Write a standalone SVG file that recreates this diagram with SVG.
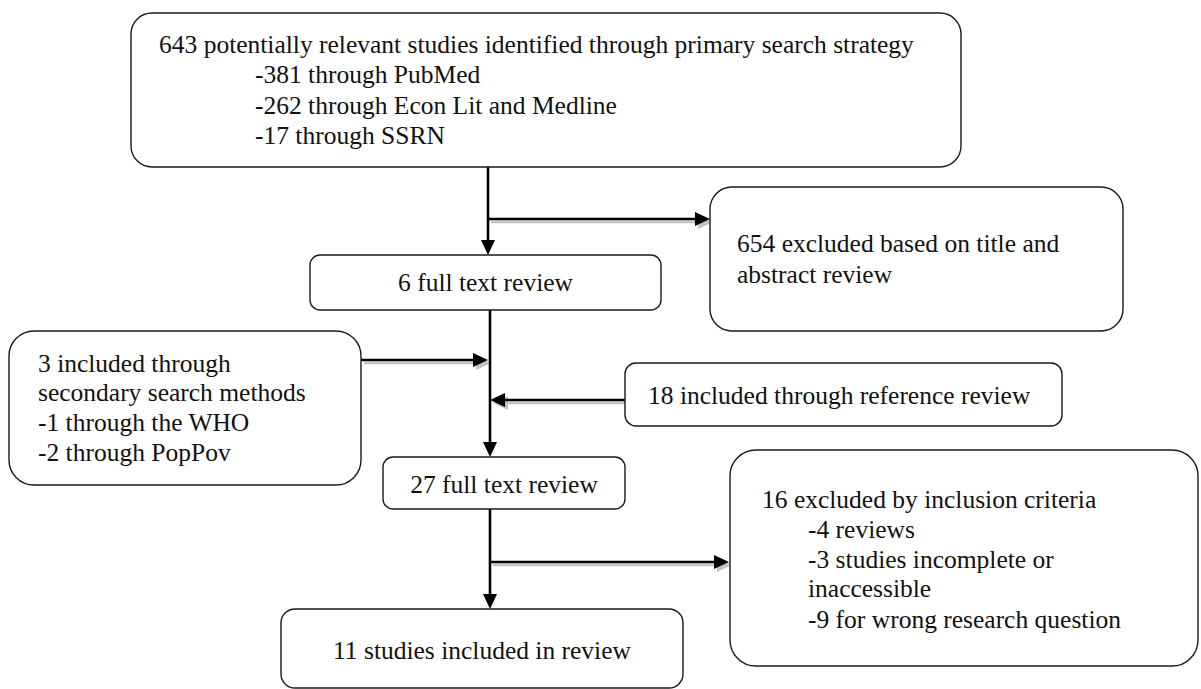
<svg xmlns="http://www.w3.org/2000/svg" width="1201" height="689" viewBox="0 0 1201 689">
  <defs>
    <style>
      .box { fill: #ffffff; stroke: #1a1a1a; stroke-width: 1.4; }
      .lbl { font-family: "Liberation Serif", "Times New Roman", serif; font-size: 25.5px; fill: #111111; }
      .mid { text-anchor: middle; }
      .wire { fill: none; stroke: #000000; stroke-width: 2.6; }
      .shade { fill: none; stroke: #c4c4c4; stroke-width: 2.6; }
    </style>
    <marker id="head" viewBox="0 0 15 14" refX="7" refY="7" markerWidth="15" markerHeight="14" markerUnits="userSpaceOnUse" orient="auto">
      <path d="M0,0 L15,7 L0,14 z" fill="#000000"/>
    </marker>
    <marker id="headShade" viewBox="0 0 15 14" refX="7" refY="7" markerWidth="15" markerHeight="14" markerUnits="userSpaceOnUse" orient="auto">
      <path d="M0,0 L15,7 L0,14 z" fill="#c4c4c4"/>
    </marker>
  </defs>

  <rect width="1201" height="689" fill="#ffffff"/>

  <!-- connectors -->
  <g id="connectors">
    <!-- soft offset shadows under the side branches -->
    <g id="shadows">
      <path class="shade" d="M491,222 H705" marker-end="url(#headShade)"/>
      <path class="shade" d="M364,363 H483" marker-end="url(#headShade)"/>
      <path class="shade" d="M628,403 H501" marker-end="url(#headShade)"/>
      <path class="shade" d="M493,565 H724" marker-end="url(#headShade)"/>
    </g>
    <!-- main spine -->
    <path class="wire" d="M488,167 V247" marker-end="url(#head)"/>
    <path class="wire" d="M490,310 V449" marker-end="url(#head)"/>
    <path class="wire" d="M490,509 V601" marker-end="url(#head)"/>
    <!-- side branches -->
    <path class="wire" d="M488,219 H702" marker-end="url(#head)"/>
    <path class="wire" d="M361,360 H480" marker-end="url(#head)"/>
    <path class="wire" d="M625,400 H498" marker-end="url(#head)"/>
    <path class="wire" d="M490,562 H721" marker-end="url(#head)"/>
  </g>

  <g id="primary-search">
    <rect class="box" x="131" y="13" width="830" height="154" rx="21"/>
    <text class="lbl" x="159" y="53">643 potentially relevant studies identified through primary search strategy</text>
    <text class="lbl" x="255" y="83">-381 through PubMed</text>
    <text class="lbl" x="255" y="114">-262 through Econ Lit and Medline</text>
    <text class="lbl" x="255" y="144">-17 through SSRN</text>
  </g>

  <g id="excluded-title-abstract">
    <rect class="box" x="710" y="187" width="413" height="144" rx="22"/>
    <text class="lbl" x="737" y="252">654 excluded based on title and</text>
    <text class="lbl" x="737" y="283">abstract review</text>
  </g>

  <g id="full-text-6">
    <rect class="box" x="310" y="255" width="351" height="55" rx="10"/>
    <text class="lbl mid" x="485.5" y="291">6 full text review</text>
  </g>

  <g id="secondary-search">
    <rect class="box" x="9" y="331" width="352" height="154" rx="25"/>
    <text class="lbl" x="38" y="372">3 included through</text>
    <text class="lbl" x="38" y="401">secondary search methods</text>
    <text class="lbl" x="38" y="431">-1 through the WHO</text>
    <text class="lbl" x="38" y="461">-2 through PopPov</text>
  </g>

  <g id="reference-review">
    <rect class="box" x="625" y="363" width="437" height="63" rx="11"/>
    <text class="lbl" x="648" y="404">18 included through reference review</text>
  </g>

  <g id="full-text-27">
    <rect class="box" x="383" y="457" width="242" height="52" rx="10"/>
    <text class="lbl mid" x="504" y="493">27 full text review</text>
  </g>

  <g id="excluded-criteria">
    <rect class="box" x="730" y="450" width="468" height="216" rx="26"/>
    <text class="lbl" x="762" y="508">16 excluded by inclusion criteria</text>
    <text class="lbl" x="808" y="538">-4 reviews</text>
    <text class="lbl" x="808" y="568">-3 studies incomplete or</text>
    <text class="lbl" x="808" y="597">inaccessible</text>
    <text class="lbl" x="808" y="628">-9 for wrong research question</text>
  </g>

  <g id="included-final">
    <rect class="box" x="281" y="609" width="402" height="79" rx="14"/>
    <text class="lbl mid" x="482" y="659">11 studies included in review</text>
  </g>
</svg>
